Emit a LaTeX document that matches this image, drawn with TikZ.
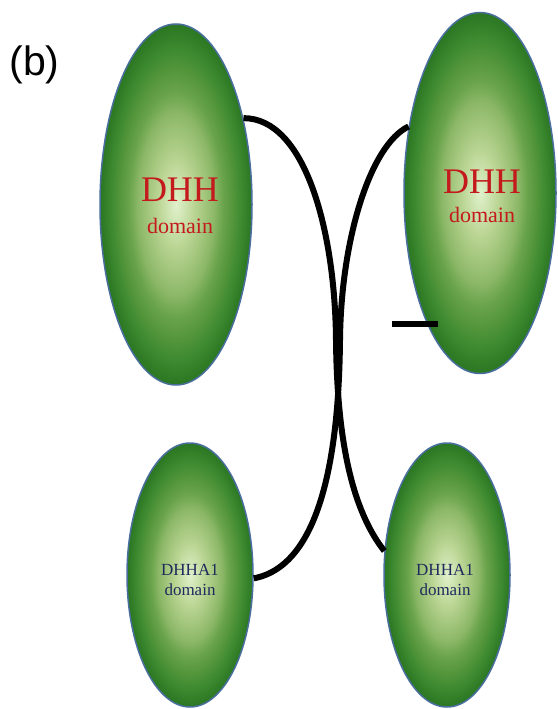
\documentclass[tikz,border=0pt]{standalone}
\usepackage{fontspec}
\setmainfont{Liberation Serif}
\newfontfamily\labelfont{Liberation Sans}
\usetikzlibrary{shapes.geometric}

% colours of the domain bodies
\definecolor{gA}{HTML}{E0F1CC}
\definecolor{gB}{HTML}{BAD593}
\definecolor{gC}{HTML}{8DB868}
\definecolor{gD}{HTML}{6AA44C}
\definecolor{gE}{HTML}{55963C}
\definecolor{gF}{HTML}{3D8A30}
\definecolor{gG}{HTML}{2B7622}
\definecolor{rim}{HTML}{4A6F9E}
\definecolor{dhhred}{HTML}{C41A1E}
\definecolor{navy}{HTML}{1E2A5C}

% soft elliptical glow, bright in the middle, deep green at the border
% (the path's bounding box covers the central 50bp square of the shading)
\pgfdeclareradialshading{domainglow}{\pgfpoint{0bp}{0bp}}{%
  color(0bp)=(gA); color(6bp)=(gB); color(12.5bp)=(gC); color(15.5bp)=(gD);
  color(18.5bp)=(gE); color(21.5bp)=(gF); color(25bp)=(gG); color(50bp)=(gG)}

\begin{document}
\begin{tikzpicture}[x=1pt,y=-1pt,
  domainbody/.style={ellipse, draw=rim, line width=1.5pt, inner sep=0pt,
    shading=domainglow},
  bigdom/.style={domainbody, minimum width=152pt, minimum height=361pt},
  smalldom/.style={domainbody, minimum width=126pt, minimum height=264pt},
  dhhtitle/.style={anchor=base, text=dhhred, font=\fontsize{36}{36}\selectfont},
  dhhsub/.style={anchor=base, text=dhhred, font=\fontsize{22}{22}\selectfont},
  atitle/.style={anchor=base, text=navy, font=\fontsize{17}{17}\selectfont},
  linker/.style={draw=black, line width=6pt, line cap=butt}]

\useasboundingbox (0,0) rectangle (557,709);

% panel tag
\node[anchor=base, font=\labelfont\fontsize{41}{41}\selectfont] (tag) at (34.5,75) {(b)};

% domain bodies
\node[bigdom] (tl) at (176,204.5) {};
\node[bigdom] (tr) at (480,193) {};
\node[smalldom] (bl) at (190,575) {};
\node[smalldom] (br) at (447,575) {};

% domain names
\node[dhhtitle] (tlname) at (180,201) {DHH};
\node[dhhsub]   (tlsub)  at (180,233) {domain};
\node[dhhtitle] (trname) at (482,193) {DHH};
\node[dhhsub]   (trsub)  at (482,222) {domain};
\node[atitle] (blname) at (190,575) {DHHA1};
\node[atitle] (blsub)  at (190,595) {domain};
\node[atitle] (brname) at (445,575) {DHHA1};
\node[atitle] (brsub)  at (445,595) {domain};

% crossing linkers between the domains
\draw[linker] (tl.52.4) .. controls (305,118) and (335,230) .. (336,340)
                        .. controls (337,440) and (352,510) .. (br.159.6);
\draw[linker] (tr.137.1) .. controls (370,145) and (341,240) .. (340,340)
                         .. controls (339,440) and (325,565) .. (bl.-3);

% short stub at the lower left of the right DHH domain
\coordinate (stubL) at (392,324);
\coordinate (stubR) at (438,324);
\draw[linker] (stubL) -- (stubR);
\end{tikzpicture}
\end{document}
